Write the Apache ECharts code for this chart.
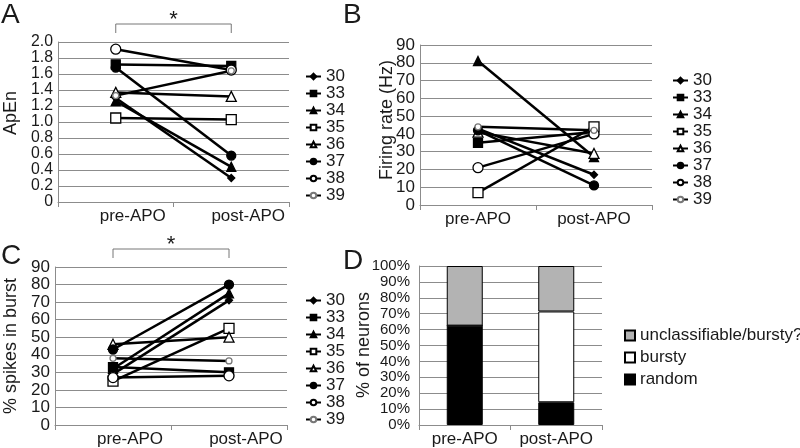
<!DOCTYPE html>
<html>
<head>
<meta charset="utf-8">
<script src="https://cdn.jsdelivr.net/npm/echarts@6/dist/echarts.min.js"></script>
<style>
  html, body { margin: 0; background: #fff; }
  #chart { width: 800px; height: 448px; }
</style>
</head>
<body>
<div id="chart"></div>
<script>
// ---- data ----
var conditions = ["pre-APO", "post-APO"];
var neurons = ["30", "33", "34", "35", "36", "37", "38", "39"];

// A: approximate entropy
var apenPre  = [1.30, 1.72, 1.26, 1.05, 1.37, 1.68, 1.91, 1.33];
var apenPost = [0.30, 1.70, 0.44, 1.03, 1.32, 0.58, 1.65, 1.64];
var apenTicks = ["0", "0.2", "0.4", "0.6", "0.8", "1.0", "1.2", "1.4", "1.6", "1.8", "2.0"];

// B: firing rate (Hz)
var ratePre  = [43, 35, 81, 7, 41, 42, 21, 44];
var ratePost = [17, 41, 27, 44, 29, 11, 40, 42];
var rateTicks = ["0", "10", "20", "30", "40", "50", "60", "70", "80", "90"];

// C: % spikes in burst
var burstPre  = [29, 33, 32, 25, 46, 43, 27, 38];
var burstPost = [71, 30, 75, 55, 50, 80, 28, 36.5];
var burstTicks = rateTicks;

// D: % of neurons by firing pattern
var patterns = ["unclassifiable/bursty?", "bursty", "random"];
var pctRandom = [62.5, 14.3];
var pctBursty = [0, 57.1];
var pctUnclass = [37.5, 28.6];
var pctTicks = ["0%", "10%", "20%", "30%", "40%", "50%", "60%", "70%", "80%", "90%", "100%"];

// ---- style ----
var FONT = "'Liberation Sans', Arial, sans-serif";
var INK = "#1a1a1a";
var GRID_GRAY = "#8c8c8c";

// marker per neuron: [symbol, size, filled]
var markers = {
  "30": ["diamond", 7, true],
  "33": ["rect", 9, true],
  "34": ["triangle", 9, true],
  "35": ["rect", 10, false],
  "36": ["triangle", 10, false],
  "37": ["circle", 9, true],
  "38": ["circle", 10, false],
  "39": ["circle", 6, false]
};

var grids = [
  { left: 58, top: 42, width: 231, height: 160 },   // A
  { left: 420, top: 45, width: 232, height: 160 },  // B
  { left: 55, top: 267, width: 232, height: 160 },  // C
  { left: 419, top: 266, width: 183, height: 160 }  // D
];

function xAxisFor(i, shift) {
  return {
    type: "category", gridIndex: i, data: conditions,
    axisLine: { lineStyle: { color: GRID_GRAY, width: 1 } },
    axisTick: { show: true, length: 5, lineStyle: { color: GRID_GRAY } },
    axisLabel: { color: INK, fontSize: 17, fontFamily: FONT, margin: 6, interval: 0,
                 hideOverlap: false, padding: [0, 0, 0, shift] }
  };
}

// label size must stay under the 16px tick spacing on A and D or ECharts drops labels
function yAxisFor(i, max, interval, labels, margin, size) {
  return {
    type: "value", gridIndex: i, min: 0, max: max, interval: interval,
    axisLine: { show: true, lineStyle: { color: GRID_GRAY, width: 1 } },
    axisTick: { show: false },
    splitLine: { lineStyle: { color: GRID_GRAY, width: 1 } },
    axisLabel: {
      color: INK, fontSize: size, fontFamily: FONT, margin: margin,
      showMinLabel: true, showMaxLabel: true, hideOverlap: false,
      formatter: function (v) { return labels[Math.round(v / interval)]; }
    }
  };
}

function lineSeries(pre, post, gi) {
  return neurons.map(function (n, i) {
    var m = markers[n];
    return {
      name: n, type: "line", xAxisIndex: gi, yAxisIndex: gi,
      data: [pre[i], post[i]],
      symbol: m[0], symbolSize: m[1],
      itemStyle: { color: m[2] ? "#000" : "#fff",
                   borderColor: n === "39" ? "#777" : "#000", borderWidth: 1.3 },
      lineStyle: { color: "#000", width: 2.5 },
      emphasis: { disabled: true }
    };
  });
}

function lineLegend(left, top) {
  return {
    orient: "vertical", left: left, top: top, data: neurons,
    itemWidth: 15, itemHeight: 7, itemGap: 0, selectedMode: false,
    textStyle: { color: INK, fontSize: 17, fontFamily: FONT, lineHeight: 16.7 }
  };
}

function barSeries(name, data, fill) {
  return {
    name: name, type: "bar", stack: "pct", xAxisIndex: 3, yAxisIndex: 3,
    data: data, barWidth: 36,
    itemStyle: { color: fill, borderColor: "#000", borderWidth: 1 },
    emphasis: { disabled: true }
  };
}

var chart = echarts.init(document.getElementById("chart"), null, { renderer: "canvas" });

chart.setOption({
  animation: false,
  textStyle: { fontFamily: FONT },
  grid: grids,
  xAxis: [xAxisFor(0, 34), xAxisFor(1, 0), xAxisFor(2, 34), xAxisFor(3, 0)],
  yAxis: [
    yAxisFor(0, 2, 0.2, apenTicks, 5, 15.8),
    yAxisFor(1, 90, 10, rateTicks, 5, 17),
    yAxisFor(2, 90, 10, burstTicks, 5, 17),
    yAxisFor(3, 100, 10, pctTicks, 9, 15)
  ],
  legend: [
    lineLegend(300, 63),
    lineLegend(667, 67),
    lineLegend(300, 287),
    {
      orient: "vertical", left: 619, top: 322, data: patterns,
      icon: "rect", itemWidth: 10, itemHeight: 10, itemGap: 5, selectedMode: false,
      textStyle: { color: INK, fontSize: 17, fontFamily: FONT }
    }
  ],
  series: []
    .concat(lineSeries(apenPre, apenPost, 0))
    .concat(lineSeries(ratePre, ratePost, 1))
    .concat(lineSeries(burstPre, burstPost, 2))
    .concat([
      barSeries("random", pctRandom, "#000"),
      barSeries("bursty", pctBursty, "#fff"),
      barSeries("unclassifiable/bursty?", pctUnclass, "#b3b3b3")
    ])
});

// significance brackets, axis titles and panel letters
function bracket(gi) {
  var x0 = chart.convertToPixel({ xAxisIndex: gi }, conditions[0]);
  var x1 = chart.convertToPixel({ xAxisIndex: gi }, conditions[1]);
  var yTop = grids[gi].top - 18;
  return [
    { type: "polyline", silent: true,
      shape: { points: [[x0, yTop + 9], [x0, yTop], [x1, yTop], [x1, yTop + 9]] },
      style: { stroke: "#777", lineWidth: 1, fill: null } },
    { type: "text", silent: true, x: (x0 + x1) / 2, y: yTop - 4,
      style: { text: "*", font: "22px " + FONT, fill: INK, align: "center", verticalAlign: "middle" } }
  ];
}

function yTitle(t, x, y) {
  return { type: "text", silent: true, x: x, y: y, rotation: Math.PI / 2,
           style: { text: t, font: "18px " + FONT, fill: INK, align: "center", verticalAlign: "middle" } };
}

function letter(t, x, y) {
  return { type: "text", silent: true, x: x, y: y,
           style: { text: t, font: "28px " + FONT, fill: INK } };
}

chart.setOption({
  graphic: [].concat(
    bracket(0), bracket(2),
    [yTitle("ApEn", 11, 113), yTitle("Firing rate (Hz)", 387, 120),
     yTitle("% spikes in burst", 11, 346), yTitle("% of neurons", 364, 345)],
    [letter("A", 1, 1), letter("B", 343, 1), letter("C", 1, 242), letter("D", 343, 247)]
  )
});
</script>
</body>
</html>
